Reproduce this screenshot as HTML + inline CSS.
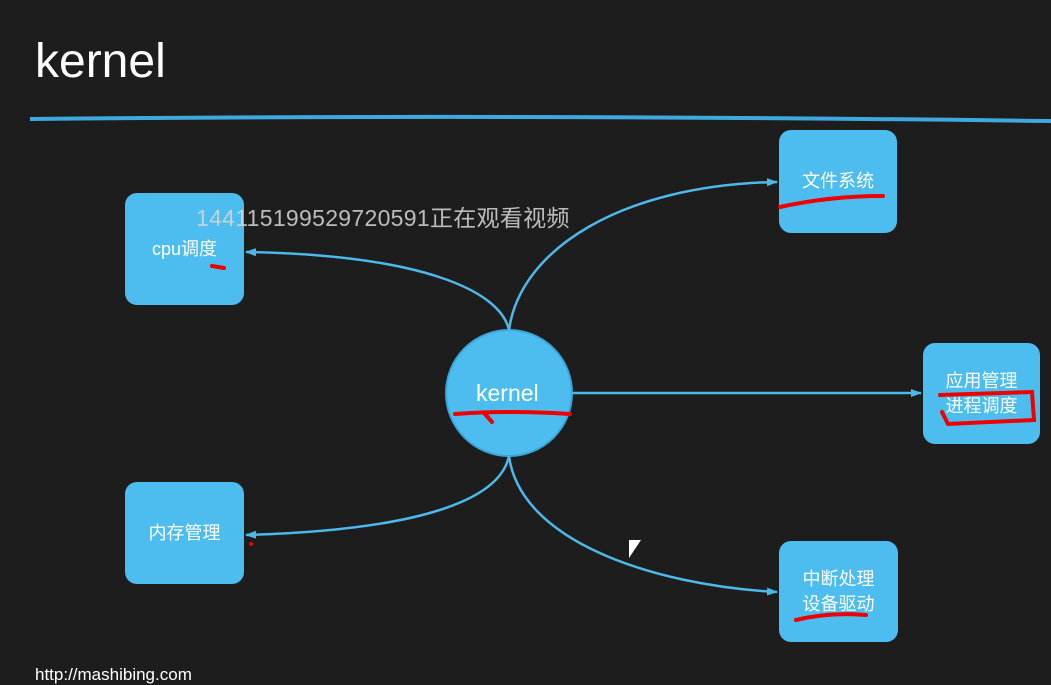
<!DOCTYPE html>
<html><head><meta charset="utf-8"><style>
html,body{margin:0;padding:0;background:#1d1d1d;}
body{width:1051px;height:683px;overflow:hidden;position:relative;font-family:"Liberation Sans","Noto Sans CJK SC",sans-serif;}
.box{position:absolute;background:#4dbdf0;border-radius:12px;color:#fff;font-size:18px;display:flex;align-items:center;justify-content:center;text-align:center;line-height:25px;}
</style></head><body>
<div style="position:absolute;left:35px;top:34px;color:#fff;font-size:48px;">kernel</div>
<svg width="1051" height="683" style="position:absolute;left:0;top:0">
<defs><marker id="a" markerUnits="userSpaceOnUse" markerWidth="12" markerHeight="12" refX="10" refY="6" orient="auto"><path d="M0,2 L11,6 L0,10 Z" fill="#4db8ea"/></marker></defs>
<path d="M30,119 Q500,114 1051,121" stroke="#3ea9e0" stroke-width="4" fill="none"/>
<circle cx="509" cy="393" r="63" fill="#4dbdf0" stroke="#3aa6d8" stroke-width="2"/>
<g stroke="#4db8ea" stroke-width="2.5" fill="none">
<path d="M509,330 C500,290 420,255 246,252" marker-end="url(#a)"/>
<path d="M509,330 C520,250 620,185 777,182" marker-end="url(#a)"/>
<path d="M572,393 L921,393" marker-end="url(#a)"/>
<path d="M509,456 C500,500 420,530 246,535" marker-end="url(#a)"/>
<path d="M509,456 C520,540 650,585 777,592" marker-end="url(#a)"/>
</g>
</svg>
<div class="box" style="left:125px;top:193px;width:119px;height:112px;">cpu调度</div>
<div class="box" style="left:779px;top:130px;width:118px;height:103px;">文件系统</div>
<div class="box" style="left:923px;top:343px;width:117px;height:101px;">应用管理<br>进程调度</div>
<div class="box" style="left:125px;top:482px;width:119px;height:102px;">内存管理</div>
<div class="box" style="left:779px;top:541px;width:119px;height:101px;">中断处理<br>设备驱动</div>
<div style="position:absolute;left:476px;top:380px;color:#fff;font-size:23px;">kernel</div>
<svg width="1051" height="683" style="position:absolute;left:0;top:0">
<g stroke="#e00" stroke-width="4" fill="none" stroke-linecap="round">
<path d="M455,414 Q510,410 570,414"/><path d="M485,414 L492,422"/>
<path d="M780,207 Q830,196 883,196"/>
<path d="M940,395 L1032,392 L1034,420 L948,424 L942,412"/>
<path d="M796,620 Q830,612 866,615"/>
<path d="M212,266 L224,268"/>
</g>
<circle cx="251" cy="544" r="2" fill="#e00"/>
</svg>
<div style="position:absolute;left:196px;top:199px;color:#d8d8d8;font-size:23px;letter-spacing:0.3px;opacity:.85;white-space:nowrap">14411519952972059​1正在观看视频</div>
<div style="position:absolute;left:35px;top:665px;color:#fff;font-size:17px;">http://mashibing.com</div>
<div style="position:absolute;left:629px;top:540px;width:0;height:0;border-top:18px solid #fff;border-right:12px solid transparent;"></div>
</body></html>
